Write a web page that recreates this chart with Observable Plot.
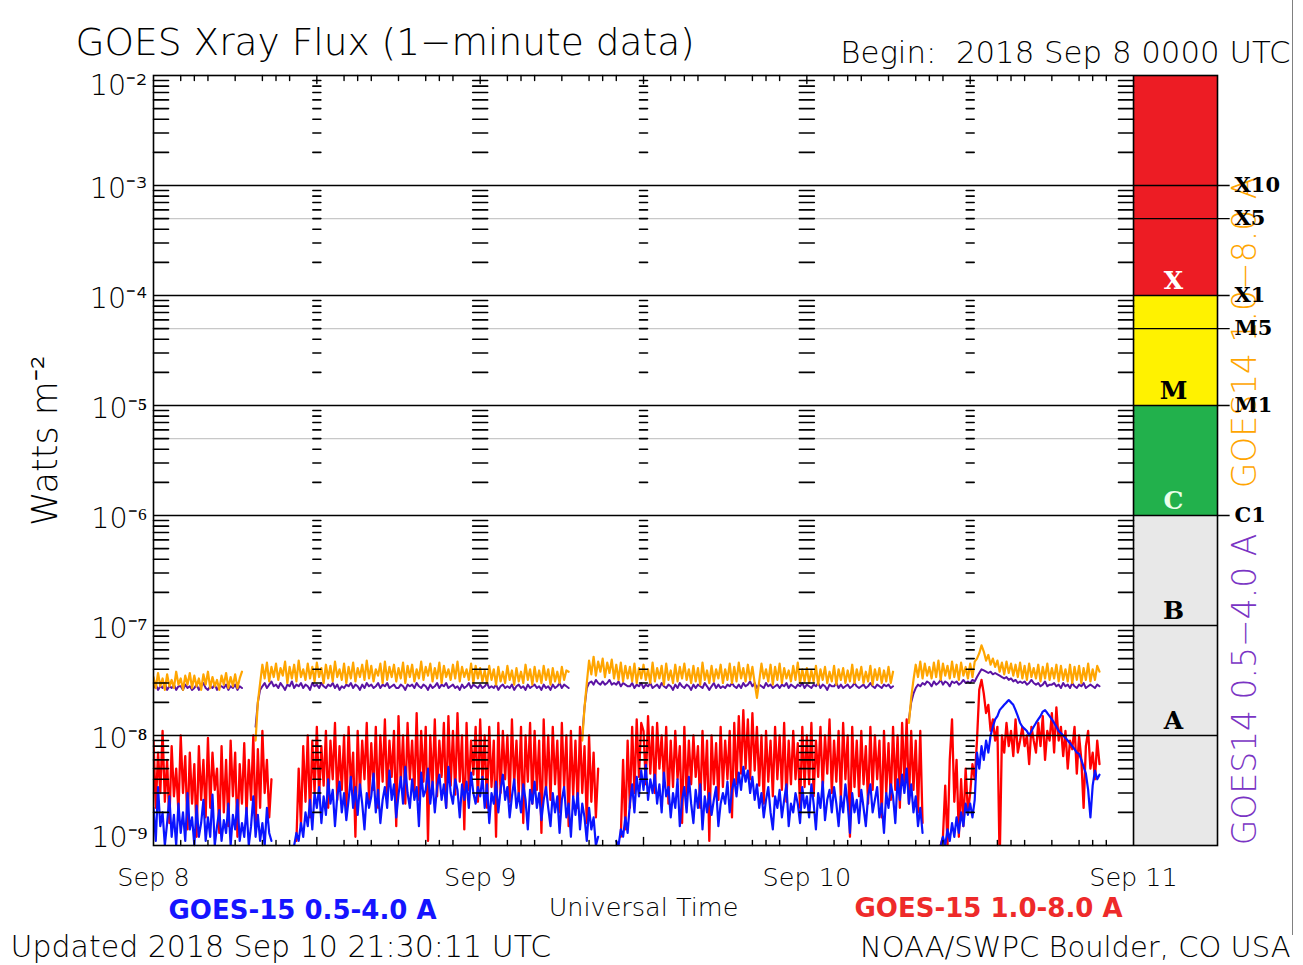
<!DOCTYPE html>
<html>
<head>
<meta charset="utf-8">
<script src="https://cdn.jsdelivr.net/npm/d3@7"></script>
<script src="https://cdn.jsdelivr.net/npm/@observablehq/plot@0.6"></script>
<style>
  html, body { margin: 0; padding: 0; background: #fff; }
  #chart { position: relative; width: 1303px; height: 965px; overflow: hidden; }
  #chart svg { display: block; }
  #edge { position: absolute; left: 1292px; top: 0; width: 1px; height: 935px; background: #808080; }
</style>
</head>
<body>
<div id="chart"></div>
<script>
// ---------- data (flux in units of 1e-9 W m^-2, one value every 10 minutes from 2018 Sep 8 00:00 UTC) ----------
const UNIT = 1e-9;
const T0 = Date.UTC(2018, 8, 8);
const STEP_MS = 10 * 60 * 1000;

// GOES-15 1.0-8.0 A (red)
const goes15Long = [
  9,2.2,7,3,11,2.5, 6,1.6,8,2.8,5,2, 10,3,6.5,1.4,7,2.4, 5.5,1.2,8,2.6,6,1.8,
  9.5,2.2,7,3.2,5,1.3, 8,2,6,1.5,9,2.8, 7,1.2,5.5,2.4,8.5,1.9, 6,2.6,10,1.5,7.5,2.2,
  11,3,6,1.8,4,null, null,null,null,null,null,null, null,null,null,1.1,5,1.5, 8,2.5,10,1.8,9,3,
  12,2.8,8,3.5,11,2.2, 9,4,13,2.6,8,3.2, 10,2,12,3.5,7,1.2, 11,3,9,4,13,2.6,
  8.5,3.2,12,2.2,10,3.8, 14,2.8,9,4.2,11,1.5, 15,3.6,10,2.4,13,4, 9,3,16,2.6,11,3.8,
  12,1.1,10,3.4,14,2.8, 9,4.2,13,2.2,15,3.5, 11,2.9,16,3.8,10,1.4, 13,3.2,9,4.4,12,2.5,
  14,3.8,10,2.2,12,3.4, 9,1.2,13,3,11,4, 10,2.5,14,3.6,9,2.8, 12,1.6,10,3.8,13,2.4,
  11,3.2,9,1.3,14,3, 10,2.6,12,3.6,9,2, 13,3.4,10,1.5,11,2.8, 9,2.2,12,3,8,1.6,
  10,2.5,7,1.8,5,null, null,null,null,null,null,null, null,null,1.2,6,1.4,9, 2.2,12,3,14,4.2,13,
  11,3.6,15,4.5,12,3, 13,5,10,3.8,12,2.4, 9,3.4,11,4,8,1.6, 12,2.8,9,3.6,10,4.2,
  8,2.2,11,3.2,9,1.1, 10,3.6,8.5,2.6,12,3.4, 9,4,11,1.8,13,3.6, 15,4.5,17,5,14,4,
  16,4.8,12,3.5,10,2.4, 11,3.8,9,2.8,12,4, 10,3.2,13,2.5,9,3.6, 11,4,8.5,2.2,12,3.4,
  10,3.6,13,2.8,9,4.2, 12,3.2,10,4.5,14,3, 9,3.8,11,2.6,13,4, 10,1.2,12,3.4,9,2.8,
  11,3.6,8,2.4,12,3.2, 10,4,9,1.8,11,3, 8.5,2.6,12,3.2,10,2.2, 13,3.8,14,2.4,11,3.2,
  9,2,11,1.6,null,null, null,null,null,null,null,1.0, 1.2,3.5,1.0,6,14,2.5, 6,1.2,4,1.5,5,2.0,
  3.0,5.5,4.0,9,26,32, 24,16,19,11,14,9, 12,0.7,10,7,13,8, 11,6.5,14,7,9,12,
  8,10,5.5,12,9,7, 13,8,15,6,11,9, 16,7,18,9,12,6.5, 11,5,9,7.5,12,4.5,
  10,6,2.2,8,11,5, 7,4,9,5.5
];

// GOES-15 0.5-4.0 A (blue)
const goes15Short = [
  2.2,1.1,3.4,1.5,2,1.0, 1.6,2.8,1.2,1.9,1.0,2.4, 1.3,2,1.1,3,1.4,1.8, 1.0,2.3,1.2,1.6,2.6,1.1,
  1.8,1.2,2.9,1.0,1.5,2.1, 1.1,1.7,1.3,2.4,1.0,1.9, 1.4,2.6,1.1,1.6,1.2,2.2, 1.0,1.5,2.8,1.2,1.9,1.1,
  1.6,1.0,2.2,1.3,1.1,null, null,null,null,null,null,null, null,null,1.0,1.3,1.1,1.6, 1.2,2.0,1.5,2.6,1.4,3.0,
  2.2,3.4,1.6,2.8,1.9,4.0, 2.4,3.2,1.5,2.8,3.8,2.0, 3.0,1.7,2.6,4.2,2.2,3.4, 1.9,3.6,2.4,1.4,3.0,2.2,
  2.8,4.5,2.0,3.2,1.6,2.6, 3.4,2.2,4.8,2.6,3.6,1.8, 2.9,4.2,2.4,5.2,3.0,2.2, 4.0,2.6,3.4,1.5,4.6,2.8,
  3.2,5.0,2.4,3.8,2.0,3.4, 4.4,2.6,3.6,2.2,5.2,3.0, 2.4,4.0,3.2,1.8,3.6,2.6, 3.8,2.2,4.6,3.0,2.4,3.4,
  2.8,4.2,2.2,3.6,1.6,3.0, 2.4,3.8,2.0,3.2,4.4,2.6, 3.4,1.8,2.8,4.0,2.2,3.0, 2.0,3.6,2.6,1.4,3.2,2.4,
  3.8,2.2,3.0,1.7,2.6,3.4, 2.2,1.5,3.0,2.0,2.8,1.3, 2.6,3.4,1.8,2.4,1.2,2.8, 1.9,3.0,1.4,2.4,1.8,1.1,
  2.2,1.4,1.8,1.0,1.2,null, null,null,null,null,null,null, 1.1,1.0,1.4,1.2,1.8,1.3, 2.4,3.6,2.0,4.2,2.8,4.8,
  3.2,5.4,2.6,4.0,3.0,4.4, 2.4,3.6,2.0,4.6,2.8,3.4, 1.8,3.0,2.2,4.0,1.5,2.6, 3.4,2.0,4.2,2.4,1.6,3.2,
  2.2,3.6,1.4,2.8,2.0,3.0, 1.9,2.6,3.4,1.5,2.4,3.0, 2.4,3.8,2.0,3.2,4.0,2.8, 4.6,3.2,5.2,3.8,4.8,3.0,
  4.2,2.6,3.6,2.2,3.0,1.8, 2.6,3.4,2.0,1.4,2.8,2.2, 3.2,1.8,2.6,3.6,1.5,2.4, 2.0,3.0,2.4,1.6,3.4,2.2,
  2.8,1.8,3.6,2.4,1.4,3.0, 2.2,3.8,1.7,2.6,3.2,2.0, 3.4,2.4,1.5,2.8,2.0,3.6, 2.4,1.3,3.0,2.0,2.6,1.6,
  3.2,2.2,1.5,2.8,3.6,2.0, 2.6,3.4,1.8,2.4,1.3,3.0, 2.2,3.6,2.8,1.6,4.0,2.6, 4.4,3.0,5.0,2.4,3.6,2.0,
  2.8,1.5,2.2,1.3,null,null, null,null,null,null,null,1.0, 1.2,1.0,1.4,1.1,1.6,1.2, 1.8,1.3,2.0,1.5,2.4,1.9,
  2.4,1.8,2.6,7,5,8, 6,9,7,10,12,14, 15,17,18,19,20,21, 20,19,17,15,13,12,
  11.5,11,10,11,12,13, 14,15,16.5,17,16,15, 14,13,12,11,10.5,10, 9.5,9,8.5,8,7.5,7,
  6.8,6,5.2,4.5,3.2,1.8, 3.5,4.8,4.0,4.4
];

// GOES14 1.0-8.0 A (orange)
const goes14Long = [
  34,27,37,28,33,26, 36,28,32,27,38,29, 33,26,35,29,37,27, 35,28,33,26,36,29,
  38,27,34,28,32,26, 35,29,37,27,34,28, 36,27,33,38,null,null, null,null,null,9,20,30,
  44,33,46,31,42,34, 45,32,41,35,47,30, 42,33,44,31,48,34, 40,32,45,33,42,31,
  46,34,41,30,44,33, 43,31,47,34,40,32, 45,30,42,33,46,31, 41,34,44,32,48,33,
  43,31,40,35,45,30, 47,32,42,34,44,31, 41,33,46,30,43,34, 44,31,40,33,47,32,
  42,35,45,31,41,33, 46,30,43,34,40,32, 44,33,47,31,42,34, 40,32,45,30,43,33,
  41,31,39,30,43,32, 40,29,42,31,38,30, 43,32,39,29,41,31, 38,30,44,32,40,29,
  42,31,39,30,43,32, 40,29,41,31,38,30, 42,32,39,38,null,null, null,null,null,9,18,30,
  48,36,52,35,47,38, 50,34,46,37,49,33, 44,32,46,31,43,33, 42,31,45,30,41,33,
  44,32,40,30,46,31, 41,33,43,29,45,32, 39,30,44,31,42,33, 45,32,40,30,43,31,
  41,29,46,32,39,30, 43,31,40,33,44,30, 40,32,45,30,42,31, 46,33,41,31,44,32,
  42,30,22,31,45,33, 40,31,44,29,42,32, 45,30,41,33,39,31, 43,32,46,30,40,31,
  41,30,39,31,43,29, 40,32,42,30,38,31, 43,29,40,32,41,30, 39,31,44,30,40,32,
  42,30,38,31,43,29, 40,32,41,30,39,31, 42,30,38,null,null,null, null,null,null,13,22,32,
  44,34,47,33,45,35, 42,33,46,34,48,32, 45,35,43,33,47,34, 44,32,46,35,42,33,
  45,34,47,50,56,66, 58,48,54,44,50,42, 48,38,46,36,47,37, 45,35,44,34,46,33,
  43,32,45,34,41,33, 44,31,42,33,45,32, 41,33,44,31,43,32, 40,31,44,30,42,32,
  43,30,41,32,45,31, 40,32,43,38
];

// GOES14 0.5-4.0 A (purple)
const goes14Short = [
  27,29,26,28,27,30, 26,28,27,29,26,28, 28,26,29,27,28,26, 27,29,26,28,30,27,
  26,28,27,29,26,28, 28,27,29,26,28,27, 29,26,28,27,null,null, null,null,null,12,20,26,
  28,30,27,29,31,28, 29,27,30,28,26,29, 28,31,27,29,28,30, 27,29,28,26,30,28,
  29,27,30,28,27,29, 28,30,27,29,26,28, 27,29,28,30,27,29, 28,26,29,27,30,28,
  29,27,28,30,27,29, 28,30,27,28,29,27, 27,29,28,26,29,28, 29,27,30,28,27,29,
  28,26,29,27,28,30, 27,29,28,30,27,28, 29,27,28,26,29,27, 28,30,27,29,28,27,
  29,27,28,30,27,28, 27,29,26,28,29,27, 28,27,29,26,28,29, 27,28,26,29,27,28,
  29,27,28,26,29,27, 28,26,29,27,28,30, 27,29,28,27,null,null, null,null,null,10,18,27,
  30,31,29,32,30,29, 31,29,30,32,29,30, 29,31,28,30,29,28, 28,30,27,29,28,30,
  27,29,28,30,27,28, 29,27,30,28,27,29, 28,26,29,27,30,28, 27,29,28,26,29,27,
  29,28,27,30,28,26, 28,30,27,29,27,28, 27,29,28,30,28,27, 29,27,30,28,29,31,
  28,30,27,29,28,27, 30,28,29,27,28,29, 27,29,28,30,27,29, 28,27,29,28,30,27,
  29,28,27,29,28,30, 27,29,28,26,29,28, 28,30,27,29,27,28, 29,27,28,30,28,27,
  28,29,27,28,30,28, 27,29,28,27,29,28, 29,27,28,null,null,null, null,null,null,14,20,24,
  27,29,28,30,29,31, 30,28,31,29,30,32, 29,31,30,28,31,30, 31,29,30,32,30,31,
  30,32,31,34,37,40, 39,38,37,38,36,37, 36,35,34,33,34,32, 33,31,32,30,31,30,
  31,29,30,32,30,29, 30,28,29,31,28,29, 29,30,28,29,27,30, 28,29,27,30,28,27,
  29,28,30,27,28,29, 28,27,29,28
];

// ---------- axes / annotation values ----------
const dayTicks = ["2018-09-08", "2018-09-09", "2018-09-10", "2018-09-11"];
const dayTickLabels = ["Sep 8", "Sep 9", "Sep 10", "Sep 11"];
const decades = [1e-9, 1e-8, 1e-7, 1e-6, 1e-5, 1e-4, 1e-3, 1e-2];
const decadeLabels = ["10⁻⁹", "10⁻⁸", "10⁻⁷", "10⁻⁶", "10⁻⁵", "10⁻⁴", "10⁻³", "10⁻²"];
const halfDecades = [5e-6, 5e-5, 5e-4];
const classNames = ["X10", "X5", "X1", "M5", "M1", "C1"];
const classValues = [1e-3, 5e-4, 1e-4, 5e-5, 1e-5, 1e-6];
const bandNames = ["X", "M", "C", "B", "A"];
const bandLow = [1e-4, 1e-5, 1e-6, 1e-7, 1e-8];
const bandTextColor = ["#ffffff", "#000000", "#eaffea", "#000000", "#000000"];
const stripLow = [1e-4, 1e-5, 1e-6, 1e-9];
const stripHigh = [1e-2, 1e-4, 1e-5, 1e-6];
const stripColor = ["#ed1c24", "#fff200", "#22b14c", "#e8e8e8"];
const minorMultipliers = [2, 3, 4, 5, 6, 7, 8, 9];
const hourTickOffsets = [2, 3, 4, 6, 8, 9, 10];

// ---------- derived tables ----------
const H = 3600 * 1000;
const at = (hours) => new Date(T0 + hours * H);
const SEP11 = at(72);
const X_END = at(72 + 6.17);               // right edge of the class strip
const LABEL_END = at(72 + 7.1);            // end of the class label leader lines

function rows(values, series) {
  return values.map((v, i) => ({time: new Date(T0 + i * STEP_MS), flux: v == null ? NaN : v * UNIT, series}));
}
const dataLongG15 = rows(goes15Long, "GOES-15 1.0-8.0 A");
const dataShortG15 = rows(goes15Short, "GOES-15 0.5-4.0 A");
const dataLongG14 = rows(goes14Long, "GOES14 1.0-8.0 A");
const dataShortG14 = rows(goes14Short, "GOES14 0.5-4.0 A");

const yTicks = decades.map((v, i) => ({v, label: decadeLabels[i]}));
const classRows = classNames.map((name, i) => ({name, v: classValues[i]}));
const bandRows = bandNames.map((name, i) => ({name, v: bandLow[i], color: bandTextColor[i]}));
const stripRows = stripColor.map((color, i) => ({lo: stripLow[i], hi: stripHigh[i], color}));
const minorValues = decades.slice(0, 7).flatMap((d) => minorMultipliers.map((m) => m * d));
const cross = (hours) => hours.flatMap((h) => minorValues.map((v) => ({t: at(h), v})));
const minorMidShort = cross([12, 36, 60]);
const minorMidLong = cross([24, 48]);
const minorRight = cross([72]);
const halfDays = [0, 12, 24, 36, 48, 60];
const hourTicks = halfDays.flatMap((b) => hourTickOffsets.map((o) => at(b + o)));
const halfDayTicks = [12, 24, 36, 48, 60].map(at);

const lineShape = {draw(context, l) { context.moveTo(0, 0); context.lineTo(0, -l); }};
const FONT = "DejaVu Sans";
const SERIF = "DejaVu Serif";
const TXT = {lineAnchor: "middle", fill: "#000", fontWeight: 300};

const chart = Plot.plot({
  width: 1303,
  height: 965,
  marginLeft: 153,
  marginRight: 86,
  marginTop: 75,
  marginBottom: 120,
  style: {background: "#fff", color: "#000", fontFamily: FONT},
  x: {type: "utc", domain: [at(0), X_END], axis: null},
  y: {type: "log", domain: [1e-9, 1e-2], axis: null},
  color: {type: "identity"},
  marks: [
    // class strip
    Plot.rect(stripRows, {x1: () => SEP11, x2: () => X_END, y1: "lo", y2: "hi", fill: "color"}),
    // light half-decade lines in the plot
    Plot.ruleY(halfDecades, {x1: () => at(0), x2: () => SEP11, stroke: "#c8c8c8", strokeWidth: 1.2}),
    // data
    Plot.line(dataShortG14, {x: "time", y: "flux", stroke: "#5b13a3", strokeWidth: 2, clip: true}),
    Plot.line(dataLongG14, {x: "time", y: "flux", stroke: "#ffa500", strokeWidth: 2.2, clip: true}),
    Plot.line(dataLongG15, {x: "time", y: "flux", stroke: "#ff0000", strokeWidth: 2.3, clip: true}),
    Plot.line(dataShortG15, {x: "time", y: "flux", stroke: "#0a14ff", strokeWidth: 2.2, clip: true}),
    // decade lines
    Plot.ruleY([1e-8, 1e-7], {x1: () => at(0), x2: () => X_END, stroke: "#000", strokeWidth: 1.6}),
    Plot.ruleY([1e-6, 1e-5, 1e-4, 1e-3], {x1: () => at(0), x2: () => LABEL_END, stroke: "#000", strokeWidth: 1.6}),
    Plot.ruleY([5e-4, 5e-5], {x1: () => SEP11, x2: () => LABEL_END, stroke: "#000", strokeWidth: 1.4}),
    // minor log ticks
    Plot.vector(minorValues, {y: (d) => d, frameAnchor: "left", rotate: 90, length: 15, anchor: "start", shape: lineShape, stroke: "#000", strokeWidth: 1.6}),
    Plot.vector(minorMidShort, {x: "t", y: "v", rotate: 90, length: 8, anchor: "middle", shape: lineShape, stroke: "#000", strokeWidth: 1.6}),
    Plot.vector(minorMidLong, {x: "t", y: "v", rotate: 90, length: 15, anchor: "middle", shape: lineShape, stroke: "#000", strokeWidth: 1.6}),
    Plot.vector(minorRight, {x: "t", y: "v", rotate: -90, length: 15, anchor: "start", shape: lineShape, stroke: "#000", strokeWidth: 1.6}),
    // hour ticks on top and bottom
    Plot.vector(hourTicks, {x: (d) => d, frameAnchor: "top", rotate: 180, length: 5, anchor: "start", shape: lineShape, stroke: "#000", strokeWidth: 1.4}),
    Plot.vector(hourTicks, {x: (d) => d, frameAnchor: "bottom", rotate: 0, length: 5, anchor: "start", shape: lineShape, stroke: "#000", strokeWidth: 1.4}),
    Plot.vector(halfDayTicks, {x: (d) => d, frameAnchor: "top", rotate: 180, length: 8, anchor: "start", shape: lineShape, stroke: "#000", strokeWidth: 1.4}),
    Plot.vector(halfDayTicks, {x: (d) => d, frameAnchor: "bottom", rotate: 0, length: 8, anchor: "start", shape: lineShape, stroke: "#000", strokeWidth: 1.4}),
    // frame
    Plot.frame({stroke: "#000", strokeWidth: 1.6}),
    Plot.ruleX([SEP11], {stroke: "#000", strokeWidth: 1.6}),
    // x tick labels
    Plot.text(dayTicks, {...TXT, x: (d) => new Date(d + "T00:00Z"), text: (d, i) => dayTickLabels[i], frameAnchor: "bottom", textAnchor: "middle", dy: 32, fontSize: 25.5}),
    // y tick labels
    Plot.text(yTicks.slice(1, 7), {...TXT, y: "v", text: "label", frameAnchor: "left", dx: -6, dy: 3, textAnchor: "end", fontSize: 28.5}),
    Plot.text(yTicks.slice(7), {...TXT, y: "v", text: "label", frameAnchor: "left", dx: -6, dy: 10, textAnchor: "end", fontSize: 28.5}),
    Plot.text(yTicks.slice(0, 1), {...TXT, y: "v", text: "label", frameAnchor: "left", dx: -6, dy: -8, textAnchor: "end", fontSize: 28.5}),
    // right-side rotated series labels
    Plot.text(["GOES14 1.0−8.0 A"], {...TXT, text: (d) => d, frameAnchor: "right", textAnchor: "middle", dx: 28, dy: -128, rotate: -90, fontSize: 33, fill: "#ffa500"}),
    Plot.text(["GOES14 0.5−4.0 A"], {...TXT, text: (d) => d, frameAnchor: "right", textAnchor: "middle", dx: 28, dy: 229, rotate: -90, fontSize: 33, fill: "#7a34c4"}),
    // class labels
    Plot.text(classRows, {y: "v", text: "name", lineAnchor: "middle", frameAnchor: "right", dx: 17, textAnchor: "start", fontSize: 21, fontWeight: "bold", fontFamily: SERIF, fill: "#000"}),
    Plot.text(bandRows, {y: "v", text: "name", lineAnchor: "middle", frameAnchor: "right", textAnchor: "middle", dx: -44, dy: -15, fontSize: 25, fontWeight: "bold", fontFamily: SERIF, fill: "color"}),
    // titles and captions
    Plot.text(["GOES Xray Flux (1−minute data)"], {...TXT, text: (d) => d, frameAnchor: "top-left", dx: -78, dy: -33, textAnchor: "start", fontSize: 37.5}),
    Plot.text(["Begin:  2018 Sep 8 0000 UTC"], {...TXT, text: (d) => d, frameAnchor: "top-right", dx: 73, dy: -22.6, textAnchor: "end", fontSize: 30.8}),
    Plot.text(["Watts m⁻²"], {...TXT, text: (d) => d, frameAnchor: "left", textAnchor: "middle", dx: -108, dy: -20, rotate: -90, fontSize: 35}),
    Plot.text(["Universal Time"], {...TXT, text: (d) => d, frameAnchor: "bottom", textAnchor: "middle", dx: -42, dy: 62, fontSize: 25.5}),
    Plot.text(["GOES-15 0.5-4.0 A"], {text: (d) => d, lineAnchor: "middle", frameAnchor: "bottom-left", textAnchor: "middle", dx: 149, dy: 65, fontSize: 26, fontWeight: "bold", fill: "#1414ff"}),
    Plot.text(["GOES-15 1.0-8.0 A"], {text: (d) => d, lineAnchor: "middle", frameAnchor: "bottom-right", textAnchor: "middle", dx: -229, dy: 63, fontSize: 26, fontWeight: "bold", fill: "#ee2a2a"}),
    Plot.text(["Updated 2018 Sep 10 21:30:11 UTC"], {...TXT, text: (d) => d, frameAnchor: "bottom-left", dx: -143, dy: 102, textAnchor: "start", fontSize: 30}),
    Plot.text(["NOAA/SWPC Boulder, CO USA"], {...TXT, text: (d) => d, frameAnchor: "bottom-right", dx: 73, dy: 102, textAnchor: "end", fontSize: 29})
  ]
});
const holder = document.getElementById("chart");
holder.appendChild(chart);
const edge = document.createElement("div");
edge.id = "edge";
holder.appendChild(edge);
</script>
</body>
</html>
